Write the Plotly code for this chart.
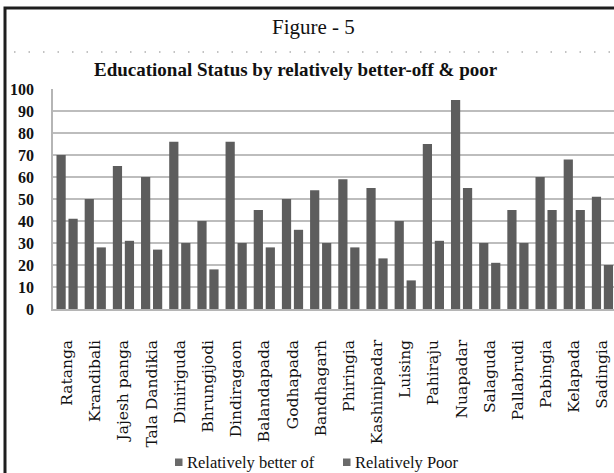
import plotly.graph_objects as go

villages = ["Ratanga", "Krandibali", "Jajesh panga", "Tala Dandikia", "Diniriguda",
            "Bhrungijodi", "Dindiragaon", "Balandapada", "Godhapada", "Bandhagarh",
            "Phiringia", "Kashinipadar", "Luising", "Pahiraju", "Nuapadar",
            "Salaguda", "Pallabrudi", "Pabingia", "Kelapada", "Sadingia"]
better_off = [70, 50, 65, 60, 76, 40, 76, 45, 50, 54, 59, 55, 40, 75, 95, 30, 45, 60, 68, 51]
poor = [41, 28, 31, 27, 30, 18, 30, 28, 36, 30, 28, 23, 13, 31, 55, 21, 30, 45, 45, 20]
y_ticks = list(range(0, 101, 10))

W, H = 614, 473
ML, MR, MT, MB = 53, 0, 89, 164
PW, PH = W - ML - MR, H - MT - MB
SERIF = "Liberation Serif"
WIDE_SERIF = "DejaVu Serif"
BAR = "#5d5d5d"


def px(x):
    return (x - ML) / PW


def py(y):
    return (H - MB - y) / PH


fig = go.Figure()
fig.add_trace(go.Bar(x=villages, y=better_off, name="Relatively better of",
                     marker=dict(color=BAR, line=dict(width=0))))
fig.add_trace(go.Bar(x=villages, y=poor, name="Relatively Poor",
                     marker=dict(color=BAR, line=dict(width=0))))

shapes = [
    # outer frame
    dict(type="rect", xref="paper", yref="paper", x0=px(5), x1=px(W + 20),
         y0=py(H + 20), y1=py(8), line=dict(color="#1e1e1e", width=3)),
    # dotted separator under the figure caption
    dict(type="line", xref="paper", yref="paper", x0=px(14), x1=px(W), y0=py(52), y1=py(52),
         line=dict(color="#b0b0b0", width=1.5, dash="1.5px,13px")),
]

# legend keys
legend_items = [("Relatively better of", 175), ("Relatively Poor", 343)]
annotations = [
    dict(text="Figure - 5", xref="paper", yref="paper", x=px(313), y=py(27),
         xanchor="center", yanchor="middle", showarrow=False,
         font=dict(family=SERIF, size=21, color="#111")),
    dict(text="<b>Educational Status by relatively better-off &amp; poor</b>",
         xref="paper", yref="paper", x=px(296), y=py(70),
         xanchor="center", yanchor="middle", showarrow=False,
         font=dict(family=SERIF, size=19, color="#111")),
]
for label, x0 in legend_items:
    shapes.append(dict(type="rect", xref="paper", yref="paper", x0=px(x0), x1=px(x0 + 7.5),
                       y0=py(466), y1=py(458.5), fillcolor="#6a6a6a", line=dict(width=0)))
    annotations.append(dict(text=label, xref="paper", yref="paper", x=px(x0 + 10), y=py(462),
                            xanchor="left", yanchor="middle", showarrow=False,
                            font=dict(family=SERIF, size=16.5, color="#111")))

fig.update_layout(
    width=W, height=H,
    margin=dict(l=ML, r=MR, t=MT, b=MB, pad=0),
    paper_bgcolor="white", plot_bgcolor="white",
    barmode="group", bargap=0.15, bargroupgap=0.23,
    showlegend=False,
    shapes=shapes, annotations=annotations,
    xaxis=dict(
        range=[-0.5, 19.41], tickangle=-90, ticks="", ticklabelstandoff=23,
        tickfont=dict(family=WIDE_SERIF, size=15.5, color="#111"),
        showline=True, linecolor="#b5b5b5", linewidth=1.5, showgrid=False,
        fixedrange=True,
    ),
    yaxis=dict(
        range=[0, 100], tickvals=y_ticks, ticktext=[f"<b>{v}</b>" for v in y_ticks],
        ticks="", ticklabelstandoff=14,
        tickfont=dict(family=SERIF, size=16, color="#111"),
        showgrid=True, gridcolor="#bdbdbd", gridwidth=1.5,
        showline=True, linecolor="#b5b5b5", linewidth=1.5,
        zeroline=False, fixedrange=True,
    ),
)

fig.write_html("out.html")
